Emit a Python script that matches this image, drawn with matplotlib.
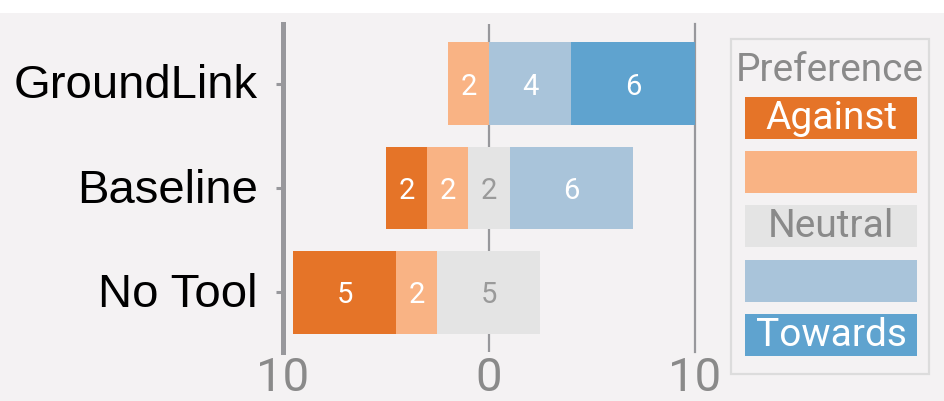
import matplotlib.pyplot as plt
from matplotlib.patches import Rectangle

# Data
conditions = ['GroundLink', 'Baseline', 'No Tool']
against = [0, 2, 5]
slight_against = [2, 2, 2]
neutral = [0, 2, 5]
slight_towards = [4, 6, 0]
towards = [6, 0, 0]
legend_labels = ['Against', '', 'Neutral', '', 'Towards']
xticks = [-10, 0, 10]
xtick_labels = ['10', '0', '10']

colors = ['#e57428', '#f9b384', '#e4e4e4', '#a9c4da', '#5fa3cf']
text_colors = ['white', 'white', '#9a9a9a', 'white', 'white']
bg = '#f4f2f3'
line_gray = '#98989c'
W, H = 945, 401

light = dict(family=['Roboto', 'DejaVu Sans'], fontweight='normal')

fig = plt.figure(figsize=(W / 100, H / 100), dpi=100, facecolor='white')
fig.patches.append(Rectangle((0, 0), 1, 1 - 13 / H, transform=fig.transFigure,
                             facecolor=bg, edgecolor='none', zorder=-10))

def fx(px):
    return px / W

def fy(py):
    return 1 - py / H

ax = fig.add_axes([fx(283), fy(352), fx(695) - fx(283), fy(24) - fy(352)])
ax.set_facecolor('none')
ax.set_xlim(-10, 10)
ax.set_ylim(2.57, -0.57)

series = [against, slight_against, neutral, slight_towards, towards]
ypos = list(range(len(conditions)))
for i in ypos:
    left = -(against[i] + slight_against[i] + neutral[i] / 2)
    for s, vals in enumerate(series):
        v = vals[i]
        if v > 0:
            ax.barh(i, v, left=left, height=0.79, color=colors[s], zorder=3)
            ax.text(left + v / 2, i, str(v), ha='center', va='center_baseline',
                    color=text_colors[s], fontsize=21, zorder=4, **light)
        left += v

ax.axvline(-10, color=line_gray, lw=3.6, zorder=1, clip_on=False)
ax.axvline(0, color=line_gray, lw=1.6, zorder=1)
ax.axvline(10, color=line_gray, lw=1.6, zorder=1, clip_on=False)

for sp in ax.spines.values():
    sp.set_visible(False)
ax.set_yticks(ypos)
ax.set_yticklabels([])
ax.tick_params(axis='y', length=5, width=2.2, color=line_gray)
for i, name in enumerate(conditions):
    ax.text(-0.061, i + 0.14, name, transform=ax.get_yaxis_transform(),
            ha='right', va='baseline', fontsize=34, family='Liberation Sans',
            color='black')
ax.set_xticks(xticks)
ax.set_xticklabels(xtick_labels, fontsize=34, color='#8a8a8a', **light)
ax.tick_params(axis='x', length=0, pad=3)

# legend
fig.patches.append(Rectangle((fx(731), fy(374)), fx(929) - fx(731), fy(39) - fy(374),
                             transform=fig.transFigure, facecolor='none',
                             edgecolor='#dcdcdc', lw=1.6))
fig.text(fx(830), fy(81), 'Preference', ha='center', va='baseline',
         fontsize=28, color='#8a8a8a', **light)
tops = [97, 151, 205, 260, 314]
for k, lab in enumerate(legend_labels):
    t = tops[k]
    fig.patches.append(Rectangle((fx(745), fy(t + 42)), fx(917) - fx(745), fy(t) - fy(t + 42),
                                 transform=fig.transFigure, facecolor=colors[k],
                                 edgecolor='none'))
    if lab:
        fig.text(fx(831), fy(t + 32), lab, ha='center', va='baseline',
                 fontsize=28, color=text_colors[k] if k != 2 else '#8a8a8a', **light)

fig.savefig('out.png', dpi=100, facecolor=fig.get_facecolor())
